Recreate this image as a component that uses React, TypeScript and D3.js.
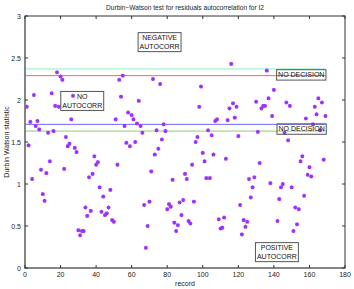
import React, { useEffect, useRef } from "react";
import * as d3 from "d3";

// records and Durbin-Watson values (record 141 has no point)
const records = [
  1, 2, 3, 4, 5, 6, 7, 8, 9, 10, 11, 12, 13, 14, 15, 16, 17, 18, 19, 20,
  21, 22, 23, 24, 25, 26, 27, 28, 29, 30, 31, 32, 33, 34, 35, 36, 37, 38, 39, 40,
  41, 42, 43, 44, 45, 46, 47, 48, 49, 50, 51, 52, 53, 54, 55, 56, 57, 58, 59, 60,
  61, 62, 63, 64, 65, 66, 67, 68, 69, 70, 71, 72, 73, 74, 75, 76, 77, 78, 79, 80,
  81, 82, 83, 84, 85, 86, 87, 88, 89, 90, 91, 92, 93, 94, 95, 96, 97, 98, 99, 100,
  101, 102, 103, 104, 105, 106, 107, 108, 109, 110, 111, 112, 113, 114, 115, 116, 117, 118, 119, 120,
  121, 122, 123, 124, 125, 126, 127, 128, 129, 130, 131, 132, 133, 134, 135, 136, 137, 138, 139, 140,
  142, 143, 144, 145, 146, 147, 148, 149, 150, 151, 152, 153, 154, 155, 156, 157, 158, 159, 160,
  161, 162, 163, 164, 165, 166, 167, 168, 169,
];
const dwValues = [
  1.92, 1.46, 1.74, 1.06, 2.06, 1.69, 1.75, 1.65, 1.17, 0.88, 0.8, 1.13, 1.61, 1.27, 2.08, 1.63, 1.93, 2.33, 1.92, 2.28,
  2.24, 1.18, 1.56, 1.45, 1.48, 1.77, 2.05, 1.43, 1.38, 0.45, 0.39, 0.44, 0.44, 0.72, 0.62, 1.08, 0.68, 1.12, 1.33, 1.23,
  1.26, 0.96, 0.67, 0.85, 0.63, 0.65, 0.72, 0.93, 0.57, 0.55, 1.77, 1.23, 2.24, 2.04, 2.29, 1.69, 1.49, 1.85, 1.45, 1.82,
  1.77, 1.5, 1.72, 1.99, 1.69, 1.61, 0.75, 0.24, 0.5, 0.79, 1.15, 2.25, 1.35, 1.64, 1.42, 2.19, 1.53, 1.71, 1.63, 0.7,
  0.76, 0.73, 1.05, 0.54, 0.44, 0.51, 0.78, 0.63, 0.81, 1.12, 1.06, 0.56, 0.53, 1.23, 0.79, 1.5, 1.56, 1.92, 2.16, 1.37,
  1.27, 1.07, 1.64, 1.07, 1.58, 1.35, 1.75, 1.77, 0.58, 0.47, 0.48, 0.6, 1.3, 1.76, 1.9, 2.43, 1.96, 1.79, 1.92, 1.57,
  0.75, 0.4, 0.57, 0.49, 0.55, 1.06, 0.84, 0.96, 1.08, 1.98, 1.62, 1.25, 1.9, 1.93, 1.93, 2.35, 2.02, 1.01, 1.81, 2.12,
  0.56, 0.82, 0.96, 1.0, 1.61, 1.97, 1.52, 1.93, 0.96, 0.44, 0.72, 0.52, 0.7, 1.27, 1.33, 0.86, 1.78, 1.11, 1.2,
  1.09, 1.71, 1.92, 1.83, 2.02, 1.64, 1.97, 1.29, 1.81,
];

// critical bounds dL, dU and their mirrors 4-dU, 4-dL
const boundValues = [2.37, 2.29, 1.71, 1.63];
const boundColors = ["#8ff0c8", "#ff6060", "#6a6aff", "#88d070"];
const boundExtent = [0, 169];

const xTicks = [0, 20, 40, 60, 80, 100, 120, 140, 160, 180];
const yTicks = [0, 0.5, 1, 1.5, 2, 2.5, 3];

// annotation texts and their centres in data units
const noteLines = [
  ["NEGATIVE", "AUTOCORR"],
  ["NO", "AUTOCORR"],
  ["NO DECISION"],
  ["NO DECISION"],
  ["POSITIVE", "AUTOCORR"],
];
const noteX = [75.7, 32.2, 155.4, 155.6, 141.7];
const noteY = [2.69, 1.99, 2.3, 1.655, 0.19];

const W = 354;
const H = 289;
const FONT = "'Liberation Sans', Arial, Helvetica, sans-serif";

export default function App() {
  const svgRef = useRef<SVGSVGElement>(null);

  useEffect(() => {
    const svg = d3.select(svgRef.current);
    svg.selectAll("*").remove();

    const marginLeft = 25;
    const marginRight = 9;
    const marginTop = 16;
    const marginBottom = 21;

    const x = d3.scaleLinear().domain([0, 180]).range([marginLeft, W - marginRight]);
    const y = d3.scaleLinear().domain([0, 3]).range([H - marginBottom, marginTop]);

    const plot = svg.append("g");

    // bound lines
    boundValues.forEach((v, i) => {
      plot
        .append("line")
        .attr("x1", x(boundExtent[0]))
        .attr("x2", x(boundExtent[1]))
        .attr("y1", y(v))
        .attr("y2", y(v))
        .attr("stroke", boundColors[i])
        .attr("stroke-width", 1);
    });

    // asterisk markers
    const r = 2;
    const d = r * 0.72;
    const star = `M${-r},0L${r},0M0,${-r}L0,${r}M${-d},${-d}L${d},${d}M${-d},${d}L${d},${-d}`;
    plot
      .selectAll(".pt")
      .data(records)
      .join("path")
      .attr("class", "pt")
      .attr("transform", (rec, i) => `translate(${x(rec)},${y(dwValues[i])})`)
      .attr("d", star)
      .attr("fill", "none")
      .attr("stroke", "#9b30ff")
      .attr("stroke-width", 1.1);

    // axes box
    const x0 = x(0), x1 = x(180), y0 = y(0), y1 = y(3);
    svg
      .append("rect")
      .attr("x", x0)
      .attr("y", y1)
      .attr("width", x1 - x0)
      .attr("height", y0 - y1)
      .attr("fill", "none")
      .attr("stroke", "#333")
      .attr("stroke-width", 1);
    svg
      .append("path")
      .attr("d", `M${x0},${y1}L${x0},${y0}L${x1},${y0}`)
      .attr("fill", "none")
      .attr("stroke", "#808080")
      .attr("stroke-width", 1.6);

    const tl = 3;
    const ticks = svg.append("g").attr("stroke", "#333").attr("stroke-width", 1);
    xTicks.forEach((t) => {
      ticks.append("line").attr("x1", x(t)).attr("x2", x(t)).attr("y1", y0).attr("y2", y0 - tl);
      ticks.append("line").attr("x1", x(t)).attr("x2", x(t)).attr("y1", y1).attr("y2", y1 + tl);
    });
    yTicks.forEach((t) => {
      ticks.append("line").attr("x1", x0).attr("x2", x0 + tl).attr("y1", y(t)).attr("y2", y(t));
      ticks.append("line").attr("x1", x1).attr("x2", x1 - tl).attr("y1", y(t)).attr("y2", y(t));
    });

    const labels = svg.append("g").attr("font-family", FONT).attr("fill", "#222");
    labels
      .selectAll(".xt")
      .data(xTicks)
      .join("text")
      .attr("x", (t) => x(t))
      .attr("y", y0 + 9)
      .attr("text-anchor", "middle")
      .attr("font-size", 7)
      .text((t) => String(t));
    labels
      .selectAll(".yt")
      .data(yTicks)
      .join("text")
      .attr("x", x0 - 4)
      .attr("y", (t) => y(t) + 2.5)
      .attr("text-anchor", "end")
      .attr("font-size", 7)
      .text((t) => String(t));

    labels
      .append("text")
      .attr("x", (x0 + x1) / 2)
      .attr("y", 10)
      .attr("text-anchor", "middle")
      .attr("font-size", 6.6)
      .text("Durbin\u2212Watson test for residuals autocorrelation for I2");
    labels
      .append("text")
      .attr("x", (x0 + x1) / 2)
      .attr("y", 286)
      .attr("text-anchor", "middle")
      .attr("font-size", 7)
      .text("record");
    labels
      .append("text")
      .attr("transform", `translate(8.5,${(y0 + y1) / 2}) rotate(-90)`)
      .attr("text-anchor", "middle")
      .attr("font-size", 7)
      .text("Durbin Watson statistic");

    // annotation boxes
    const lineH = 8.6;
    noteLines.forEach((lines, i) => {
      const cx = x(noteX[i]);
      const cy = y(noteY[i]);
      const g = svg.append("g").attr("font-family", FONT).attr("font-size", 7).attr("fill", "#111");
      const top = cy - (lines.length * lineH) / 2;
      lines.forEach((s, j) => {
        g.append("text")
          .attr("x", cx)
          .attr("y", top + lineH * (j + 1) - 1.8)
          .attr("text-anchor", "middle")
          .text(s);
      });
      const bb = (g.node() as SVGGElement).getBBox();
      const padX = 1.5;
      const boxTop = top - 0.8;
      const boxH = lines.length * lineH + 1.8;
      g.insert("rect", "text")
        .attr("x", bb.x - padX)
        .attr("y", boxTop)
        .attr("width", bb.width + padX * 2)
        .attr("height", boxH)
        .attr("fill", "none")
        .attr("stroke", "#555")
        .attr("stroke-width", 1);
    });
  }, []);

  return (
    <svg
      ref={svgRef}
      width={W}
      height={H}
      style={{ position: "absolute", left: 0, top: 0, background: "#fff" }}
    />
  );
}
